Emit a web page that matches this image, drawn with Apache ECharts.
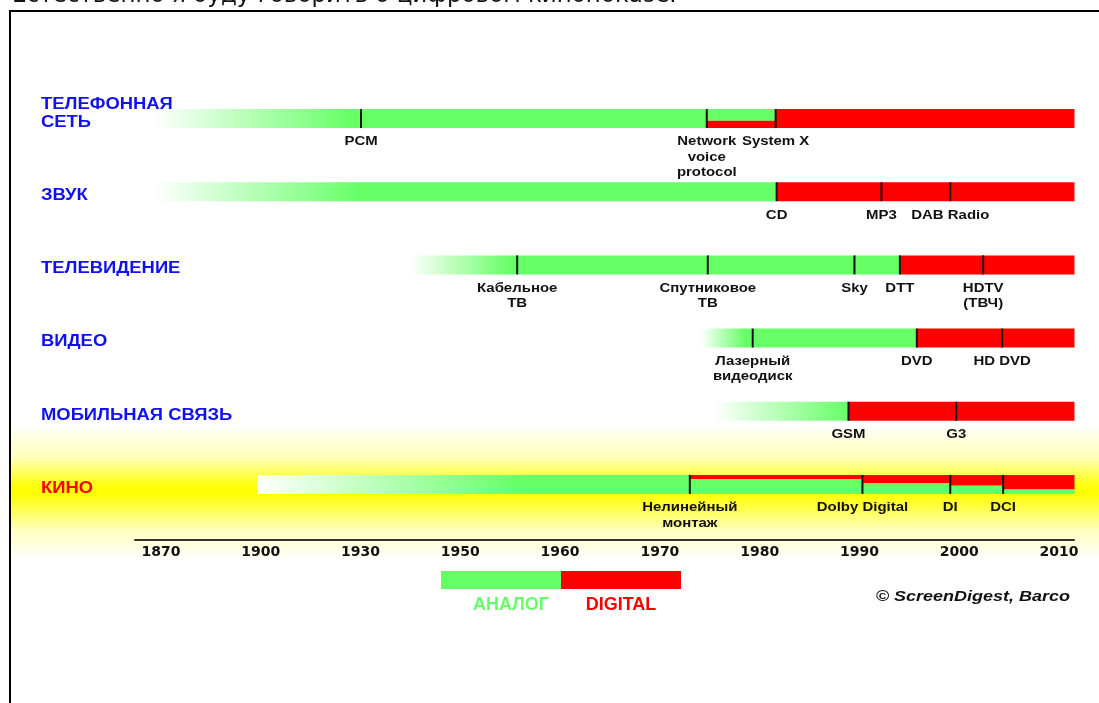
<!DOCTYPE html>
<html><head><meta charset="utf-8">
<script src="https://cdn.jsdelivr.net/npm/echarts@6/dist/echarts.min.js"></script>
<style>html,body{margin:0;padding:0;background:#fff;overflow:hidden}#c{width:1099px;height:703px}</style>
</head><body><div id="c"></div>
<script>
// ---------- data ----------
const categories = ['ТЕЛЕФОННАЯ\nСЕТЬ', 'ЗВУК', 'ТЕЛЕВИДЕНИЕ', 'ВИДЕО', 'МОБИЛЬНАЯ СВЯЗЬ', 'КИНО'];
const axisYears = [1870, 1900, 1930, 1950, 1960, 1970, 1980, 1990, 2000, 2010];
const endYear = 2011.5;
// year where each line fades in from white
const fadeStart = [1868, 1868, 1939.9, 1974.1, 1975.5, 1899];
// [start year, digital share of the bar] ; each runs to the next start or endYear
const phoneSegments  = [[1927.5, 0], [1974.7, 0.38], [1981.6, 1]];
const soundSegments  = [[1930, 0], [1981.7, 1]];
const tvSegments     = [[1955, 0], [1994.05, 1]];
const videoSegments  = [[1978.5, 0], [1995.75, 1]];
const mobileSegments = [[1988.9, 1]];
const cinemaSegments = [[1956, 0], [1973, 0.21], [1990.3, 0.42], [1999.1, 0.56], [2004.4, 0.75]];
// whether the digital share is drawn above the analog share in mixed periods
const digitalOnTop = [false, true, true, true, true, true];
// milestones: [year, label]
const phoneMilestones  = [[1930.1, 'PCM'], [1974.7, 'Network\nvoice\nprotocol'], [1981.6, 'System X']];
const soundMilestones  = [[1981.7, 'CD'], [1992.2, 'MP3'], [1999.1, 'DAB Radio']];
const tvMilestones     = [[1955.7, 'Кабельное\nТВ'], [1974.8, 'Спутниковое\nТВ'], [1989.5, 'Sky'], [1994.05, 'DTT'], [2002.4, 'HDTV\n(ТВЧ)']];
const videoMilestones  = [[1979.3, 'Лазерный\nвидеодиск'], [1995.75, 'DVD'], [2004.3, 'HD DVD']];
const mobileMilestones = [[1988.9, 'GSM'], [1999.7, 'G3']];
const cinemaMilestones = [[1973, 'Нелинейный\nмонтаж'], [1990.3, 'Dolby Digital'], [1999.1, 'DI'], [2004.4, 'DCI']];
const legendNames = ['АНАЛОГ', 'DIGITAL'];
const introText = 'Естественно я буду говорить о цифровом кинопоказе.';
const sourceText = '© ScreenDigest, Barco';

const segments = [phoneSegments, soundSegments, tvSegments, videoSegments, mobileSegments, cinemaSegments];
const milestones = [phoneMilestones, soundMilestones, tvMilestones, videoMilestones, mobileMilestones, cinemaMilestones];

// ---------- styles ----------
const GREEN = '#66ff66';
const RED = '#ff0000';
const BLUE = '#1010f0';
const catColors = [BLUE, BLUE, BLUE, BLUE, BLUE, RED];
const FONT = 'Arial, "Liberation Sans", sans-serif';
const STRETCH = 1.15;

// timeline axis is evenly spaced per labelled year
function yearToSlot(y) {
  const n = axisYears.length;
  let k = 0;
  if (y <= axisYears[0]) k = 0;
  else if (y >= axisYears[n - 1]) k = n - 2;
  else { while (y > axisYears[k + 1]) k++; }
  return k + (y - axisYears[k]) / (axisYears[k + 1] - axisYears[k]);
}

function renderItem(params, api) {
  const i = params.dataIndex;
  const yc = api.coord([0, i])[1];
  const h = 19;
  const top = yc - h / 2;
  const X = yr => api.coord([yearToSlot(yr), i])[0];
  const children = [];
  const segs = segments[i];
  // fade-in
  const xs = X(fadeStart[i]), xf = X(segs[0][0]);
  children.push({
    type: 'rect', shape: { x: xs, y: top, width: xf - xs + 0.5, height: h },
    style: { fill: new echarts.graphic.LinearGradient(0, 0, 1, 0, [
      { offset: 0, color: '#ffffff' }, { offset: 1, color: GREEN }]) }
  });
  segs.forEach((s, k) => {
    const a = X(s[0]);
    const b = X(k + 1 < segs.length ? segs[k + 1][0] : endYear);
    const redH = h * s[1];
    const redY = digitalOnTop[i] ? top : top + h - redH;
    const greenY = digitalOnTop[i] ? top + redH : top;
    if (s[1] < 1) children.push({ type: 'rect', shape: { x: a, y: greenY, width: b - a + 0.5, height: h - redH }, style: { fill: GREEN } });
    if (s[1] > 0) children.push({ type: 'rect', shape: { x: a, y: redY, width: b - a + 0.5, height: redH }, style: { fill: RED } });
  });
  milestones[i].forEach(m => {
    const x = X(m[0]);
    children.push({ type: 'line', shape: { x1: x, y1: top, x2: x, y2: top + h }, style: { stroke: '#111', lineWidth: 2 } });
    children.push({ type: 'text', scaleX: STRETCH, originX: x, originY: top + h,
      style: { text: m[1], x: x, y: top + h + 6, align: 'center', verticalAlign: 'top',
      font: 'bold 13px ' + FONT, fill: '#111', lineHeight: 15.5 } });
  });
  children.push({ type: 'text', scaleX: 1.15, originX: 41, originY: yc,
    style: { text: categories[i], x: 41, y: yc + 13, align: 'left', verticalAlign: 'bottom',
    font: 'bold 16px ' + FONT, fill: catColors[i], lineHeight: 18 } });
  return { type: 'group', children };
}

const chart = echarts.init(document.getElementById('c'), null, { renderer: 'canvas' });
chart.setOption({
  animation: false,
  backgroundColor: '#ffffff',
  grid: { left: 135, right: 25, top: 82, height: 458 },
  xAxis: {
    type: 'value', min: -0.26, max: yearToSlot(endYear),
    axisLine: { show: true, onZero: false, lineStyle: { color: '#333', width: 2 } },
    axisTick: { show: false }, splitLine: { show: false },
    axisLabel: {
      customValues: axisYears.map((_, k) => k),
      formatter: v => String(axisYears[Math.round(v)]),
      color: '#111', fontWeight: 'bold', fontSize: 14, fontFamily: '"DejaVu Sans", sans-serif', margin: 5
    }
  },
  yAxis: { type: 'value', inverse: true, min: -0.5, max: 5.76, show: false },
  graphic: [
    { type: 'rect', z: -1, silent: true, shape: { x: 11, y: 425, width: 1088, height: 135 },
      style: { fill: new echarts.graphic.LinearGradient(0, 0, 0, 1, [
        { offset: 0, color: '#ffffff' }, { offset: 0.25, color: '#ffffb4' }, { offset: 0.44, color: '#ffff14' },
        { offset: 0.5, color: '#ffff00' }, { offset: 0.58, color: '#ffff30' }, { offset: 0.78, color: '#ffffc0' }, { offset: 1, color: '#ffffff' }]) } },
    { type: 'line', shape: { x1: 9, y1: 11, x2: 1099, y2: 11 }, style: { stroke: '#000', lineWidth: 2 } },
    { type: 'line', shape: { x1: 10, y1: 10, x2: 10, y2: 703 }, style: { stroke: '#000', lineWidth: 2 } },
    { type: 'text', style: { text: introText, x: 12, y: 8, verticalAlign: 'bottom', font: '23px "DejaVu Sans", sans-serif', fill: '#111' } },
    { type: 'rect', shape: { x: 441, y: 571, width: 120, height: 18 }, style: { fill: GREEN } },
    { type: 'rect', shape: { x: 561, y: 571, width: 120, height: 18 }, style: { fill: RED } },
    { type: 'text', style: { text: legendNames[0], x: 511, y: 605, align: 'center', verticalAlign: 'middle', font: 'bold 18px ' + FONT, fill: GREEN } },
    { type: 'text', style: { text: legendNames[1], x: 621, y: 605, align: 'center', verticalAlign: 'middle', font: 'bold 18px ' + FONT, fill: RED } },
    { type: 'text', scaleX: 1.2, originX: 1070, originY: 597,
      style: { text: sourceText, x: 1070, y: 597, align: 'right', verticalAlign: 'middle', font: 'italic bold 15px ' + FONT, fill: '#111' } }
  ],
  series: [{
    type: 'custom', clip: false, silent: true, z: 2,
    renderItem: renderItem,
    data: categories.map((_, i) => [yearToSlot(endYear), i])
  }]
});
</script></body></html>
